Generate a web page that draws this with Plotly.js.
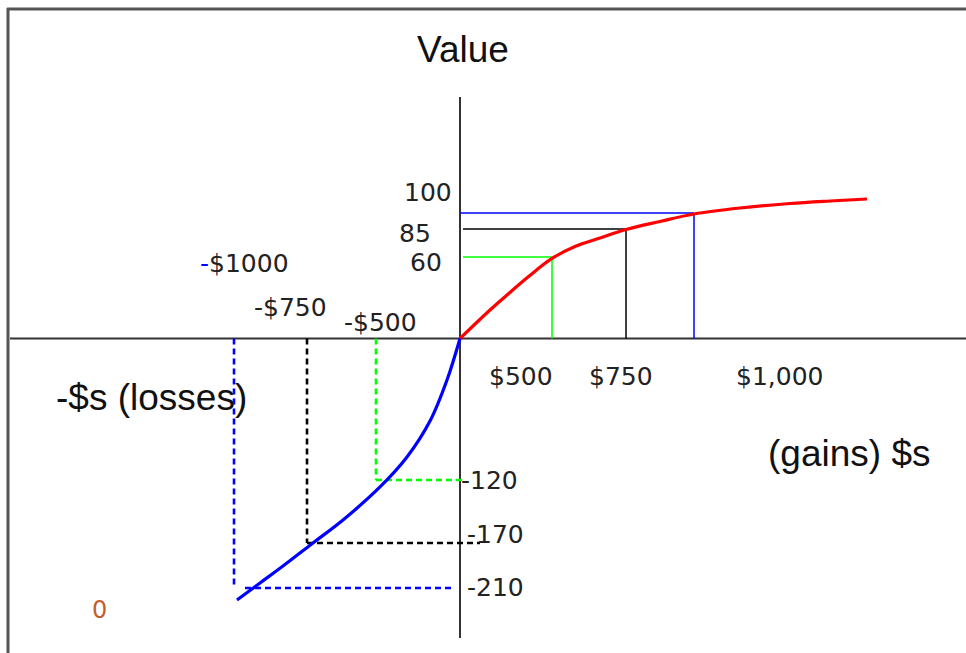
<!DOCTYPE html>
<html>
<head>
<meta charset="utf-8">
<script src="https://cdn.plot.ly/plotly-3.0.1.min.js"></script>
<style>html,body{margin:0;padding:0;background:#fff;}#chart{width:966px;height:653px;}</style>
</head>
<body>
<div id="chart"></div>
<script>
// ---- Data (x in dollars of the drawing, y in value units) ----
const gainDollars = [0, 120, 188, 272, 368, 460, 560, 664, 800, 936, 1120, 1320, 1480, 1628];
const gainValue   = [0, 23.75, 36.25, 51.25, 66.7, 76.7, 83.75, 90.8, 97.5, 103.75, 108.75, 112.5, 114.6, 116.25];

const lossDollars = [0, -52, -120, -212, -320, -468, -588, -708, -800, -892];
const lossValue   = [0, -34.6, -68.8, -98.75, -123.75, -151.25, -170.4, -189.6, -203.75, -217.9];

// reference guides (green, black, blue)
const guideColors     = ['#00ff00', '#000000', '#0000ff'];
const gainGuideX      = [368, 664, 936];
const gainGuideValue  = [67.9, 91.3, 104.6];
const gainGuideStart  = [12, 12, 0];
const lossGuideX      = [-336, -612, -904];
const lossGuideValue  = [-117.9, -170.4, -207.9];
const lossGuideHStart = [-336, -612, -860];
const lossGuideHEnd   = [20, 80, -20];

// text labels
const valueLabels     = ['100', '85', '60'];
const lossTickLabels  = ['-$1000', '-$750', '-$500'];
const gainTickLabels  = ['$500', '$750', '$1,000'];
const lossValueLabels = ['-120', '-170', '-210'];

// ---- Traces ----
const traces = [];
for (let i = 0; i < 3; i++) {
  // gains: solid guides
  traces.push({
    x: [gainGuideX[i], gainGuideX[i]], y: [0, gainGuideValue[i]],
    mode: 'lines', line: {color: guideColors[i], width: 1.5}, hoverinfo: 'skip', showlegend: false
  });
  traces.push({
    x: [gainGuideStart[i], gainGuideX[i]], y: [gainGuideValue[i], gainGuideValue[i]],
    mode: 'lines', line: {color: guideColors[i], width: 1.5}, hoverinfo: 'skip', showlegend: false
  });
  // losses: dashed guides
  traces.push({
    x: [lossGuideX[i], lossGuideX[i]], y: [0, lossGuideValue[i]],
    mode: 'lines', line: {color: guideColors[i], width: 2.6, dash: '6px,4px'}, hoverinfo: 'skip', showlegend: false
  });
  traces.push({
    x: [lossGuideHStart[i], lossGuideHEnd[i]], y: [lossGuideValue[i], lossGuideValue[i]],
    mode: 'lines', line: {color: guideColors[i], width: 2.6, dash: '6px,4px'}, hoverinfo: 'skip', showlegend: false
  });
}
traces.push({
  x: gainDollars, y: gainValue, mode: 'lines',
  line: {color: '#ff0000', width: 3.2, shape: 'spline', smoothing: 1}, showlegend: false
});
traces.push({
  x: lossDollars, y: lossValue, mode: 'lines',
  line: {color: '#0000ff', width: 3.2, shape: 'spline', smoothing: 1}, showlegend: false
});

// ---- Layout helpers (pixel -> paper) ----
const W = 966, H = 653;
const px = v => v / W;
const py = v => 1 - v / H;
const lblFont = {family: 'DejaVu Sans, Arial, sans-serif', size: 25, color: '#222'};
const ttlFont = {family: 'Liberation Sans, Arial, sans-serif', size: 37, color: '#111'};

function ann(text, x, y, xanchor, font) {
  return {text: text, xref: 'paper', yref: 'paper', x: px(x), y: py(y),
          xanchor: xanchor, yanchor: 'middle', showarrow: false, font: font, borderpad: 0};
}

const annotations = [
  ann('Value', 463, 50, 'center', ttlFont),
  ann(valueLabels[0], 453, 192, 'right', lblFont),
  ann(valueLabels[1], 432, 233, 'right', lblFont),
  ann(valueLabels[2], 443, 262, 'right', lblFont),
  ann('<span style="color:#0000ff">' + lossTickLabels[0].charAt(0) + '</span>' + lossTickLabels[0].slice(1), 199, 263, 'left', lblFont),
  ann(lossTickLabels[1], 253, 307, 'left', lblFont),
  ann(lossTickLabels[2], 343, 322, 'left', lblFont),
  ann(gainTickLabels[0], 488, 376, 'left', lblFont),
  ann(gainTickLabels[1], 588, 376, 'left', lblFont),
  ann(gainTickLabels[2], 735, 376, 'left', lblFont),
  ann('-$s (losses)', 55, 397, 'left', ttlFont),
  ann('(gains) $s', 767, 453, 'left', ttlFont),
  ann(lossValueLabels[0], 460, 480, 'left', lblFont),
  ann(lossValueLabels[1], 466, 534, 'left', lblFont),
  ann(lossValueLabels[2], 466, 587, 'left', lblFont),
  ann('0', 99, 610, 'center', {family: 'DejaVu Sans, Arial, sans-serif', size: 24, color: '#c0602c'})
];

const shapes = [
  // frame (top and left edges)
  {type: 'line', xref: 'paper', yref: 'paper', x0: px(7), x1: 1, y0: py(9), y1: py(9), line: {color: '#555', width: 3}},
  {type: 'line', xref: 'paper', yref: 'paper', x0: px(8), x1: px(8), y0: 0, y1: py(8), line: {color: '#555', width: 3}},
  // axes
  {type: 'line', xref: 'paper', yref: 'y', x0: px(10), x1: 1, y0: 0, y1: 0, layer: 'below', line: {color: '#333', width: 2}},
  {type: 'line', xref: 'x', yref: 'paper', x0: 0, x1: 0, y0: py(638), y1: py(97), layer: 'below', line: {color: '#333', width: 2}}
];

const layout = {
  width: W, height: H, autosize: false,
  margin: {l: 0, r: 0, t: 0, b: 0, pad: 0},
  paper_bgcolor: '#ffffff', plot_bgcolor: '#ffffff',
  xaxis: {range: [-1840, 2024], visible: false, fixedrange: true},
  yaxis: {range: [-262.1, 282.1], visible: false, fixedrange: true},
  showlegend: false,
  annotations: annotations,
  shapes: shapes
};

Plotly.newPlot('chart', traces, layout, {staticPlot: true, displayModeBar: false});
</script>
</body>
</html>
